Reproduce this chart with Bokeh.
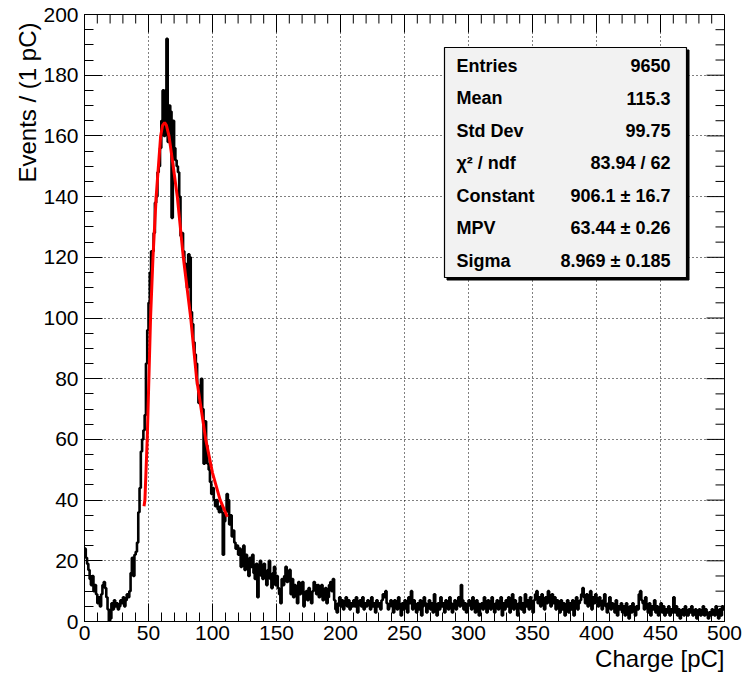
import numpy as np
from bokeh.plotting import figure
from bokeh.models import (Range1d, LinearAxis, SingleIntervalTicker, Label,
                          ColumnDataSource, Title)
from bokeh.embed import file_html
from bokeh.resources import INLINE

# ---------------- data ----------------
BIN_WIDTH = 1.0   # pC
X_MIN, X_MAX = 0, 500
Y_MIN, Y_MAX = 0, 200

counts = [
    24, 21, 19, 17, 14, 12, 15, 10, 12, 9,        # 0-9
    6, 8, 5, 9, 12, 13, 11, 8, 4, 0,              # 10-19
    1, 6, 4, 7, 5, 6, 4, 5, 7, 6,                 # 20-29
    8, 5, 7, 9, 8, 10, 16, 21, 15, 22,            # 30-39
    23, 26, 36, 44, 56, 60, 63, 68, 85, 96,       # 40-49
    105, 115, 122, 122, 128, 138, 140, 148, 150, 156,  # 50-59
    165, 175, 160, 175, 192, 158, 170, 168, 133, 165,  # 60-69
    156, 152, 150, 148, 140, 127, 128, 122, 118, 116,  # 70-79
    110, 121, 120, 102, 98, 92, 88, 85, 78, 72,   # 80-89
    74, 80, 70, 52, 66, 58, 52, 50, 46, 42,       # 90-99
    44, 40, 38, 40, 37, 36, 38, 36, 22, 33,       # 100-109
    36, 42, 40, 32, 35, 28, 30, 26, 24, 25,       # 110-119
    22, 24, 18, 20, 25, 17, 22, 19, 15, 21,       # 120-129
    18, 22, 16, 14, 19, 8, 17, 20, 15, 14,        # 130-139
    19, 15, 12, 17, 20, 14, 11, 16, 18, 12,       # 140-149
    15, 11, 9, 6, 14, 12, 15, 18, 13, 16,         # 150-159
    17, 9, 14, 8, 12, 10, 6, 13, 9, 11,           # 160-169
    13, 5, 8, 10, 7, 11, 9, 6, 10, 13,            # 170-179
    12, 9, 12, 8, 10, 12, 7, 9, 11, 6,            # 180-189
    8, 12, 13, 10, 14, 7, 4, 3, 6, 8,             # 190-199
    5, 7, 4, 6, 8, 5, 7, 4, 6, 5,                 # 200-209
    7, 5, 8, 3, 6, 7, 5, 8, 4, 6,                 # 210-219
    5, 7, 6, 4, 8, 5, 6, 3, 7, 5,                 # 220-229
    6, 4, 7, 9, 8, 10, 6, 4, 5, 7,                # 230-239
    5, 3, 7, 6, 4, 8, 5, 2, 6, 4,                 # 240-249
    7, 5, 3, 8, 6, 10, 4, 7, 5, 3,                # 250-259
    6, 4, 7, 2, 5, 8, 6, 3, 5, 7,                 # 260-269
    4, 6, 3, 9, 5, 2, 6, 4, 8, 5,                 # 270-279
    6, 3, 7, 5, 4, 8, 6, 3, 5, 7,                 # 280-289
    4, 6, 8, 5, 12, 7, 4, 6, 3, 5,                # 290-299
    7, 6, 4, 8, 5, 3, 7, 6, 2, 5,                 # 300-309
    6, 4, 8, 5, 3, 7, 6, 4, 8, 5,                 # 310-319
    3, 6, 7, 4, 5, 8, 2, 6, 4, 7,                 # 320-329
    5, 8, 3, 6, 9, 4, 7, 5, 2, 6,                 # 330-339
    8, 4, 6, 3, 9, 5, 7, 4, 8, 6,                 # 340-349
    3, 7, 9, 10, 6, 8, 5, 9, 7, 4,                # 350-359
    8, 6, 10, 7, 5, 9, 6, 8, 4, 7,                # 360-369
    5, 3, 7, 4, 6, 2, 5, 7, 3, 6,                 # 370-379
    4, 7, 2, 5, 8, 4, 6, 7, 9, 11,                # 380-389
    8, 6, 9, 5, 7, 10, 4, 8, 6, 9,                # 390-399
    7, 5, 8, 6, 4, 7, 9, 5, 3, 6,                 # 400-409
    8, 4, 6, 5, 3, 7, 2, 5, 4, 6,                 # 410-419
    3, 5, 2, 6, 4, 1, 5, 3, 6, 4,                 # 420-429
    2, 5, 4, 9, 10, 7, 6, 4, 8, 5,                # 430-439
    3, 6, 2, 5, 4, 7, 3, 5, 2, 4,                 # 440-449
    6, 3, 5, 2, 4, 3, 5, 2, 4, 3,                 # 450-459
    8, 3, 5, 2, 4, 1, 3, 4, 2, 5,                 # 460-469
    3, 2, 4, 3, 5, 2, 3, 4, 1, 3,                 # 470-479
    4, 2, 3, 5, 2, 4, 3, 1, 3, 2,                 # 480-489
    4, 3, 2, 5, 3, 1, 4, 2, 5, 4,                 # 490-499
]

# Landau fit curve
fit_x = [46.5, 47.2, 49.0, 50.3, 51.6, 53.5, 56.0, 59.5, 61.0, 62.6, 64.0,
         66.0, 69.0, 72.5, 77.2, 83.0, 87.6, 94.7, 100.0, 106.0, 111.6]
fit_y = [38.0, 40.0, 60.0, 80.0, 100.0, 120.0, 140.0, 160.0, 163.5, 164.4, 163.5,
         160.0, 151.0, 140.0, 120.0, 100.0, 80.0, 60.0, 49.0, 40.0, 34.5]

stat_names = ["Entries", "Mean", "Std Dev", "\u03c7\u00b2 / ndf", "Constant", "MPV", "Sigma"]
stat_values = ["9650", "115.3", "99.75", "83.94 / 62",
               "906.1 \u00b1 16.7", "63.44 \u00b1 0.26", "8.969 \u00b1 0.185"]

x_title = "Charge [pC]"
y_title = "Events / (1 pC)"

X_MAJOR, X_MINOR = 50, 10
Y_MAJOR, Y_MINOR = 20, 5

# ---------------- figure ----------------
FONT = "Liberation Sans"
FRAME_L, FRAME_T, FRAME_W, FRAME_H = 84, 14, 640, 607

p = figure(width=752, height=677, output_backend="svg", toolbar_location=None,
           x_range=Range1d(X_MIN, X_MAX), y_range=Range1d(Y_MIN, Y_MAX),
           min_border_left=FRAME_L, min_border_right=752 - FRAME_L - FRAME_W,
           min_border_top=FRAME_T, min_border_bottom=677 - FRAME_T - FRAME_H,
           x_axis_location=None, y_axis_location=None)
p.background_fill_color = "white"
p.border_fill_color = "white"
p.outline_line_color = "black"
p.outline_line_width = 1

xt = SingleIntervalTicker(interval=X_MAJOR, num_minor_ticks=X_MAJOR // X_MINOR)
yt = SingleIntervalTicker(interval=Y_MAJOR, num_minor_ticks=Y_MAJOR // Y_MINOR)


def style_axis(ax):
    ax.axis_line_color = "black"
    ax.major_tick_line_color = "black"
    ax.minor_tick_line_color = "black"
    ax.major_tick_in = 18
    ax.major_tick_out = 0
    ax.minor_tick_in = 9
    ax.minor_tick_out = 0
    ax.major_label_text_font = FONT
    ax.major_label_text_font_size = "21px"
    ax.major_label_text_color = "black"


xb = LinearAxis(ticker=xt)
style_axis(xb)
xb.major_label_standoff = 4
p.add_layout(xb, "below")

yl = LinearAxis(ticker=yt)
style_axis(yl)
yl.major_label_standoff = 6
p.add_layout(yl, "left")

# axis titles, right-aligned to the axis ends as in ROOT
p.add_layout(Title(text=x_title, align="right", text_font=FONT,
                   text_font_size="24px", text_font_style="normal",
                   text_color="black", standoff=0, offset=0), "below")
p.add_layout(Title(text=y_title, align="right", text_font=FONT,
                   text_font_size="24px", text_font_style="normal",
                   text_color="black", standoff=0, offset=8), "left")

# mirrored tick marks on top and right frame edges
px_x = (X_MAX - X_MIN) / FRAME_W
px_y = (Y_MAX - Y_MIN) / FRAME_H
tx = np.arange(X_MIN + X_MINOR, X_MAX, X_MINOR)
tx_len = np.where(np.isclose(tx % X_MAJOR, 0), 18, 9) * px_y
p.segment(x0=tx, x1=tx, y0=np.full(len(tx), Y_MAX), y1=Y_MAX - tx_len,
          line_color="black", line_width=1)
ty = np.arange(Y_MIN + Y_MINOR, Y_MAX, Y_MINOR)
ty_len = np.where(np.isclose(ty % Y_MAJOR, 0), 18, 9) * px_x
p.segment(x0=np.full(len(ty), X_MAX), x1=X_MAX - ty_len, y0=ty, y1=ty,
          line_color="black", line_width=1)

p.xgrid.ticker = xt
p.ygrid.ticker = yt
for g in (p.xgrid, p.ygrid):
    g.grid_line_color = "black"
    g.grid_line_dash = "1 3"
    g.grid_line_width = 1

# histogram
edges = X_MIN + BIN_WIDTH * np.arange(len(counts) + 1)
src = ColumnDataSource(dict(x=edges, y=list(counts) + [counts[-1]]))
p.step("x", "y", source=src, mode="after", line_color="black", line_width=2.6)

# fit
p.line(fit_x, fit_y, line_color="#ff0000", line_width=3)


# stats box (placed in pixel layout, converted to data coords)
def px_to_x(px):
    return X_MIN + (px - FRAME_L) * px_x


def px_to_y(py):
    return Y_MIN + (FRAME_T + FRAME_H - py) * px_y


bl, br, bt, bb = px_to_x(444), px_to_x(686), px_to_y(47), px_to_y(277)
dx, dy = 2.5 * px_x, 2.5 * px_y
p.quad(left=[bl + dx], right=[br + dx], top=[bt - dy], bottom=[bb - dy],
       fill_color="black", line_color="black")
p.quad(left=[bl], right=[br], top=[bt], bottom=[bb],
       fill_color="#f2f2f2", line_color="black", line_width=1.2)

for i, (n, v) in enumerate(zip(stat_names, stat_values)):
    cy = px_to_y(65 + i * 32.5)
    p.add_layout(Label(x=px_to_x(456), y=cy, text=n, text_font=FONT,
                       text_font_style="bold", text_font_size="18px",
                       text_baseline="middle", text_align="left", text_color="black"))
    p.add_layout(Label(x=px_to_x(670), y=cy, text=v, text_font=FONT,
                       text_font_style="bold", text_font_size="18px",
                       text_baseline="middle", text_align="right", text_color="black"))

open("out.html", "w").write(file_html(p, INLINE))
